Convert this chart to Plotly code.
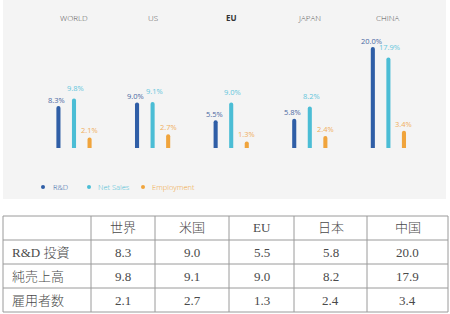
import plotly.graph_objects as go

# ---- data ----
regions = ["WORLD", "US", "EU", "JAPAN", "CHINA"]
rd = [8.3, 9.0, 5.5, 5.8, 20.0]
net_sales = [9.8, 9.1, 9.0, 8.2, 17.9]
employment = [2.1, 2.7, 1.3, 2.4, 3.4]
series_names = ["R&D", "Net Sales", "Employment"]

table_cols = ["", "世界", "米国", "EU", "日本", "中国"]
row_labels = ["R&D 投資", "純売上高", "雇用者数"]

W, H = 450, 314
def px_x(p):
    return p / W
def px_y(p):
    return 1 - p / H

colors = ["#2f5ea6", "#4bbdd5", "#f0a43c"]
label_colors = ["#4a68a2", "#62c6dc", "#f0ae5c"]

fig = go.Figure()

# gray panel behind chart
fig.add_shape(type="rect", xref="paper", yref="paper",
              x0=px_x(3), x1=px_x(446), y0=px_y(199), y1=px_y(0),
              fillcolor="#f4f4f4", line=dict(width=0), layer="below")

# axes: 78.6 px per category, first category center at x=74px
spacing = 78.6
x0 = 74
xr = [(0 - x0) / spacing, (W - x0) / spacing]
ppu = 5.05
base = 148
y_top, y_bot = 0, 199
yr = [-(y_bot - base) / ppu, (base - y_top) / ppu]

bar_w = 0.052
offsets = [-0.198, 0.0, 0.198]
label_gap = [6.5, 11, 7]      # px above bar top
label_dx = [-1.5, 1.5, 0]     # px horizontal nudge
for name, vals, c, lc, off, gap, dx in zip(series_names, [rd, net_sales, employment],
                                           colors, label_colors, offsets, label_gap, label_dx):
    fig.add_trace(go.Bar(
        x=regions, y=vals, name=name,
        width=bar_w, offset=off - bar_w / 2,
        marker=dict(color=c, cornerradius=2, line=dict(width=0)),
        showlegend=False, hoverinfo="skip",
    ))
    for r, v in zip(regions, vals):
        fig.add_annotation(x=r, xref="x", y=v, yref="y",
                           text=f"{v:.1f}%", showarrow=False,
                           xshift=off * spacing + dx, yshift=gap,
                           xanchor="center", yanchor="middle",
                           font=dict(family="Open Sans", size=7.5, color=lc, weight=400))

fig.update_layout(
    width=W, height=H, margin=dict(l=0, r=0, t=0, b=0),
    paper_bgcolor="white", plot_bgcolor="rgba(0,0,0,0)",
    barmode="overlay",
    xaxis=dict(domain=[0, 1], range=xr, visible=False, type="category"),
    yaxis=dict(domain=[px_y(y_bot), px_y(y_top)], range=yr, visible=False),
    showlegend=False,
)

# group titles
for r in regions:
    bold = (r == "EU")
    fig.add_annotation(x=r, xref="x", y=px_y(18), yref="paper",
                       text=r, showarrow=False,
                       font=dict(family="Open Sans", size=8,
                                 color="#333333" if bold else "#555555",
                                 weight=700 if bold else 300),
                       xanchor="center", yanchor="middle")

# manual legend
leg = [(43, 51), (89, 96), (143, 150)]
for (dx, tx), name, c in zip(leg, series_names, colors):
    fig.add_shape(type="circle", xref="paper", yref="paper",
                  x0=px_x(dx - 2), x1=px_x(dx + 2),
                  y0=px_y(187 + 2), y1=px_y(187 - 2),
                  fillcolor=c, line=dict(width=0))
    fig.add_annotation(x=px_x(tx), xref="paper", y=px_y(187), yref="paper",
                       text=name, showarrow=False, xanchor="left", yanchor="middle",
                       font=dict(family="Open Sans", size=7.5, color=c, weight=300))

# ---- table drawn with lines and text ----
serif = "Liberation Serif, 'Noto Sans CJK JP', serif"
tcolor = "#4a4a4a"
col_edges = [3, 91, 155, 229, 294, 367, 448]
row_edges = [216, 240, 264, 288, 312]
lc = "#9a9a9a"
for xe in col_edges:
    fig.add_shape(type="line", xref="paper", yref="paper",
                  x0=px_x(xe), x1=px_x(xe), y0=px_y(row_edges[0]), y1=px_y(row_edges[-1]),
                  line=dict(color=lc, width=1))
for ye in row_edges:
    fig.add_shape(type="line", xref="paper", yref="paper",
                  x0=px_x(col_edges[0]), x1=px_x(col_edges[-1]), y0=px_y(ye), y1=px_y(ye),
                  line=dict(color=lc, width=1))

def cell_text(txt, ci, ri, align="center"):
    ymid = (row_edges[ri] + row_edges[ri + 1]) / 2
    if align == "left":
        x = px_x(col_edges[ci] + 7)
        xa = "left"
    else:
        x = px_x((col_edges[ci] + col_edges[ci + 1]) / 2)
        xa = "center"
    fig.add_annotation(x=x, xref="paper", y=px_y(ymid), yref="paper",
                       text=txt, showarrow=False, xanchor=xa, yanchor="middle",
                       font=dict(family=serif, size=13, color=tcolor, weight=300))

for ci, h in enumerate(table_cols):
    if h:
        cell_text(h, ci, 0)
for ri, lab in enumerate(row_labels):
    cell_text(lab, 0, ri + 1, align="left")
for ci, (a, b, c) in enumerate(zip(rd, net_sales, employment)):
    for ri, v in enumerate([a, b, c]):
        cell_text(f"{v:.1f}", ci + 1, ri + 1)

fig.write_html("out.html")
